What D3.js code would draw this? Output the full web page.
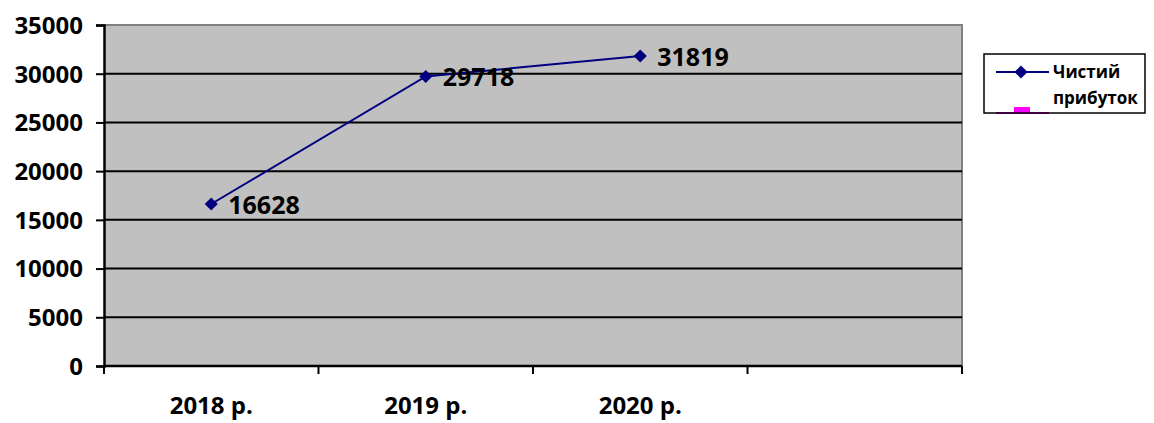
<!DOCTYPE html>
<html>
<head>
<meta charset="utf-8">
<script src="https://cdn.jsdelivr.net/npm/d3@7"></script>
<style>
  html, body { margin: 0; padding: 0; background: #fff; }
  svg { display: block; }
  text { font-family: "Open Sans", "Liberation Sans", sans-serif; font-weight: bold; fill: #000; }
</style>
</head>
<body>
<svg id="chart" width="1154" height="423"></svg>
<script>
// Net profit by year
const categories = ["2018 р.", "2019 р.", "2020 р.", ""];
const profit = [16628, 29718, 31819];
const yTicks = [0, 5000, 10000, 15000, 20000, 25000, 30000, 35000];
const seriesName = ["Чистий", "прибуток"];

const svg = d3.select("#chart");
const plot = { left: 104, right: 962, top: 25, bottom: 366 };

const x = d3.scaleBand().domain(categories).range([plot.left, plot.right]).padding(0);
const y = d3.scaleLinear().domain([0, 35000]).range([plot.bottom, plot.top]);

// plot background
svg.append("rect")
  .attr("x", plot.left).attr("y", plot.top)
  .attr("width", plot.right - plot.left).attr("height", plot.bottom - plot.top)
  .attr("fill", "#c0c0c0");

// gray frame on top and right
svg.append("path")
  .attr("d", `M${plot.left},${plot.top}H${plot.right}V${plot.bottom}`)
  .attr("fill", "none").attr("stroke", "#808080").attr("stroke-width", 2);

// horizontal gridlines
svg.append("g").selectAll("line")
  .data(yTicks.filter(t => t > 0 && t < 35000))
  .join("line")
  .attr("x1", plot.left).attr("x2", plot.right)
  .attr("y1", d => y(d)).attr("y2", d => y(d))
  .attr("stroke", "#000").attr("stroke-width", 2);

// y axis
const yAxis = svg.append("g")
  .attr("transform", `translate(${plot.left},0)`)
  .call(d3.axisLeft(y).tickValues(yTicks).tickFormat(d3.format("d")).tickSize(8).tickPadding(13));
yAxis.select(".domain").attr("stroke", "#000").attr("stroke-width", 2.5);
yAxis.selectAll(".tick line").attr("stroke", "#000").attr("stroke-width", 2);
yAxis.selectAll(".tick text")
  .style("font-family", '"Open Sans", sans-serif').style("font-weight", "bold")
  .style("font-size", "24px").attr("dy", "0.35em");

// x axis with ticks at category boundaries
const xEdges = categories.map(c => x(c)).concat([plot.right]);
svg.append("line")
  .attr("x1", plot.left).attr("x2", plot.right)
  .attr("y1", plot.bottom).attr("y2", plot.bottom)
  .attr("stroke", "#000").attr("stroke-width", 2.5);
svg.append("g").selectAll("line")
  .data(xEdges).join("line")
  .attr("x1", d => d).attr("x2", d => d)
  .attr("y1", plot.bottom).attr("y2", plot.bottom + 8)
  .attr("stroke", "#000").attr("stroke-width", 2);
svg.append("g").selectAll("text")
  .data(categories.filter(c => c !== "")).join("text")
  .attr("x", d => x(d) + x.bandwidth() / 2)
  .attr("y", 406)
  .attr("dy", "0.35em")
  .attr("text-anchor", "middle")
  .style("font-size", "24px")
  .text(d => d);

// data line
const pts = profit.map((v, i) => [x(categories[i]) + x.bandwidth() / 2, y(v), v]);
svg.append("path")
  .attr("d", d3.line()(pts.map(p => [p[0], p[1]])))
  .attr("fill", "none").attr("stroke", "#000080").attr("stroke-width", 2);

const diamond = d3.symbol().type(d3.symbolDiamond2).size(110);
svg.append("g").selectAll("path")
  .data(pts).join("path")
  .attr("transform", d => `translate(${d[0]},${d[1]})`)
  .attr("d", diamond)
  .attr("fill", "#000080");

// value labels
svg.append("g").selectAll("text")
  .data(pts).join("text")
  .attr("x", d => d[0] + 17)
  .attr("y", d => d[1] + 1)
  .attr("dy", "0.35em")
  .style("font-size", "25px")
  .text(d => d[2]);

// legend
const lg = svg.append("g");
lg.append("rect").attr("x", 984).attr("y", 54).attr("width", 161).attr("height", 59)
  .attr("fill", "#fff");
lg.append("line").attr("x1", 996).attr("x2", 1049).attr("y1", 113).attr("y2", 113)
  .attr("stroke", "#ff00ff").attr("stroke-width", 2);
lg.append("rect").attr("x", 1014).attr("y", 107).attr("width", 16).attr("height", 6)
  .attr("fill", "#ff00ff");
lg.append("rect").attr("x", 984).attr("y", 54).attr("width", 161).attr("height", 59)
  .attr("fill", "none").attr("stroke", "#000").attr("stroke-width", 1.5);
lg.append("line").attr("x1", 996).attr("x2", 1049).attr("y1", 72).attr("y2", 72)
  .attr("stroke", "#000080").attr("stroke-width", 2);
lg.append("path").attr("transform", "translate(1021,72)")
  .attr("d", d3.symbol().type(d3.symbolDiamond2).size(110)).attr("fill", "#000080");
lg.selectAll("text.name").data(seriesName).join("text")
  .attr("class", "name")
  .attr("x", 1053)
  .attr("y", (d, i) => 72 + i * 26)
  .attr("dy", "0.35em")
  .style("font-size", "17px")
  .text(d => d);
</script>
</body>
</html>
